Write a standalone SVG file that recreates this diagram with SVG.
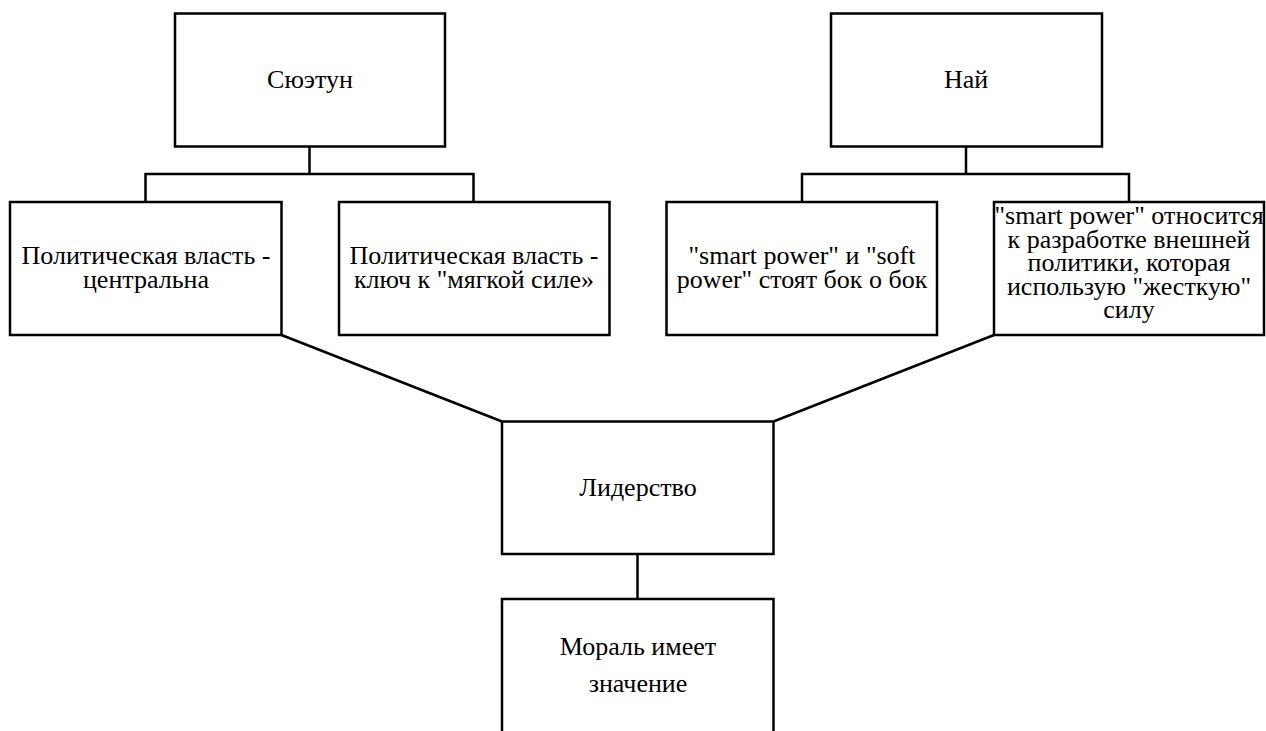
<svg xmlns="http://www.w3.org/2000/svg" width="1266" height="731" viewBox="0 0 1266 731">
<style>
.box{fill:#fff;stroke:#000;stroke-width:2.5}
.c{fill:none;stroke:#000;stroke-width:2.5}
</style>
<rect width="1266" height="731" fill="#fff"/>
<g id="connectors">
<path class="c" d="M309.5,147 V174 M145.5,202 V174 H473.5 V202"/>
<path class="c" d="M966,147 V174 M802,202 V174 H1129 V202"/>
<path class="c" d="M281.5,335 L502,421.5"/>
<path class="c" d="M994,335 L773.5,421.5"/>
<path class="c" d="M637.5,554 V599"/>
</g>
<g id="n-suetun"><rect class="box" x="175" y="13.5" width="270" height="133"/></g>
<text font-family="Liberation Serif" font-size="26" x="310" y="87.5" text-anchor="middle">Сюэтун</text>
<g id="n-nai"><rect class="box" x="831" y="13.5" width="271" height="133"/><text font-family="Liberation Serif" font-size="26" x="944" y="87.5">Най</text></g>
<g id="n-pol1"><rect class="box" x="10" y="202" width="271.5" height="133"/></g>
<text font-family="Liberation Serif" font-size="26" x="146" y="264" text-anchor="middle">Политическая власть -</text>
<text font-family="Liberation Serif" font-size="26" x="146" y="287.5" text-anchor="middle">центральна</text>
<g id="n-pol2"><rect class="box" x="339" y="202" width="270.5" height="133"/></g>
<text font-family="Liberation Serif" font-size="26" x="474" y="264" text-anchor="middle">Политическая власть -</text>
<text font-family="Liberation Serif" font-size="26" x="474" y="287.5" text-anchor="middle">ключ к "мягкой силе»</text>
<g id="n-smart1"><rect class="box" x="666.5" y="202" width="270.5" height="133"/></g>
<text font-family="Liberation Serif" font-size="26" x="802" y="264" text-anchor="middle">"smart power" и "soft</text>
<text font-family="Liberation Serif" font-size="26" x="802" y="287.5" text-anchor="middle">power" стоят бок о бок</text>
<g id="n-smart2"><rect class="box" x="994" y="202" width="270" height="133"/></g>
<text font-family="Liberation Serif" font-size="26" x="1129" y="223.5" text-anchor="middle">"smart power" относится</text>
<text font-family="Liberation Serif" font-size="26" x="1129" y="247.5" text-anchor="middle">к разработке внешней</text>
<text font-family="Liberation Serif" font-size="26" x="1129" y="271" text-anchor="middle">политики, которая</text>
<text font-family="Liberation Serif" font-size="26" x="1129" y="294.5" text-anchor="middle">использую "жесткую"</text>
<text font-family="Liberation Serif" font-size="26" x="1129" y="318" text-anchor="middle">силу</text>
<g id="n-lead"><rect class="box" x="502" y="421.5" width="271.5" height="132.5"/></g>
<text font-family="Liberation Serif" font-size="26" x="638" y="495.5" text-anchor="middle">Лидерство</text>
<g id="n-moral"><rect class="box" x="502" y="599" width="271.5" height="160"/></g>
<text font-family="Liberation Serif" font-size="26" x="638" y="655" text-anchor="middle">Мораль имеет</text>
<text font-family="Liberation Serif" font-size="26" x="638" y="691.5" text-anchor="middle">значение</text>
</svg>
